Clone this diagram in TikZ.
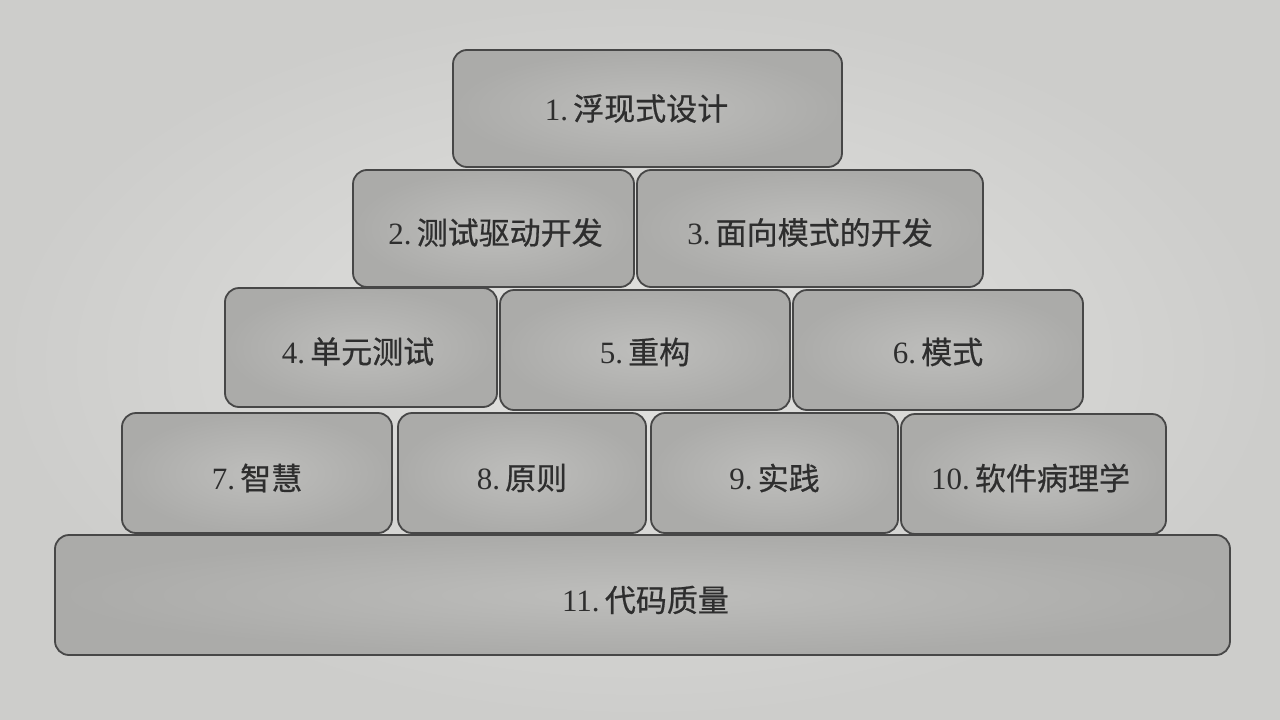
\documentclass[tikz,border=0pt]{standalone}
\usepackage{fontspec}
\setmainfont{Liberation Serif}
\newfontfamily\cjk[FakeBold=0.6]{Noto Sans CJK SC}
\definecolor{bgin}{HTML}{E2E2E0}
\definecolor{bgout}{HTML}{CDCDCB}
\definecolor{boxin}{HTML}{BEBEBC}
\definecolor{boxout}{HTML}{ABABA9}
\definecolor{edge}{HTML}{474747}
\definecolor{txt}{HTML}{2E2E2E}
\tikzset{
  brick/.style={draw=edge, line width=1.8pt, rounded corners=14pt,
    inner color=boxin, outer color=boxout, inner sep=0pt},
  bricktext/.style={text=txt, font=\fontsize{31}{36}\selectfont, inner sep=0pt}
}
\newcommand{\lbl}[2]{#1\,{\cjk #2}}
\begin{document}
\begin{tikzpicture}[x=1pt,y=-1pt]
\useasboundingbox (0,0) rectangle (1280,720);
\shade[inner color=bgin, outer color=bgout] (0,0) rectangle (1280,720);
\node[brick, minimum width=389pt, minimum height=117pt] (b1) at (647.5,108.5) {};
\node[brick, minimum width=281pt, minimum height=117pt] (b2) at (493.5,228.5) {};
\node[brick, minimum width=346pt, minimum height=117pt] (b3) at (810,228.5) {};
\node[brick, minimum width=272pt, minimum height=119pt] (b4) at (361,347.5) {};
\node[brick, minimum width=290pt, minimum height=120pt] (b5) at (645,350) {};
\node[brick, minimum width=290pt, minimum height=120pt] (b6) at (938,350) {};
\node[brick, minimum width=270pt, minimum height=120pt] (b7) at (257,473) {};
\node[brick, minimum width=248pt, minimum height=120pt] (b8) at (522,473) {};
\node[brick, minimum width=247pt, minimum height=120pt] (b9) at (774.5,473) {};
\node[brick, minimum width=265pt, minimum height=120pt] (b10) at (1033.5,474) {};
\node[brick, minimum width=1175pt, minimum height=120pt] (b11) at (642.5,595) {};
\node[bricktext] (t1) at ([xshift=-11pt]b1.center) {\lbl{1.}{浮现式设计}};
\node[bricktext] (t2) at ([xshift=2pt,yshift=-4pt]b2.center) {\lbl{2.}{测试驱动开发}};
\node[bricktext] (t3) at ([yshift=-4pt]b3.center) {\lbl{3.}{面向模式的开发}};
\node[bricktext] (t4) at ([xshift=-3pt,yshift=-4pt]b4.center) {\lbl{4.}{单元测试}};
\node[bricktext] (t5) at ([yshift=-2pt]b5.center) {\lbl{5.}{重构}};
\node[bricktext] (t6) at ([yshift=-2pt]b6.center) {\lbl{6.}{模式}};
\node[bricktext] (t7) at ([yshift=-5pt]b7.center) {\lbl{7.}{智慧}};
\node[bricktext] (t8) at ([yshift=-5pt]b8.center) {\lbl{8.}{原则}};
\node[bricktext] (t9) at ([yshift=-5pt]b9.center) {\lbl{9.}{实践}};
\node[bricktext] (t10) at ([xshift=-3pt,yshift=-4pt]b10.center) {\lbl{10.}{软件病理学}};
\node[bricktext] (t11) at ([xshift=3pt,yshift=-5pt]b11.center) {\lbl{11.}{代码质量}};
\end{tikzpicture}
\end{document}
